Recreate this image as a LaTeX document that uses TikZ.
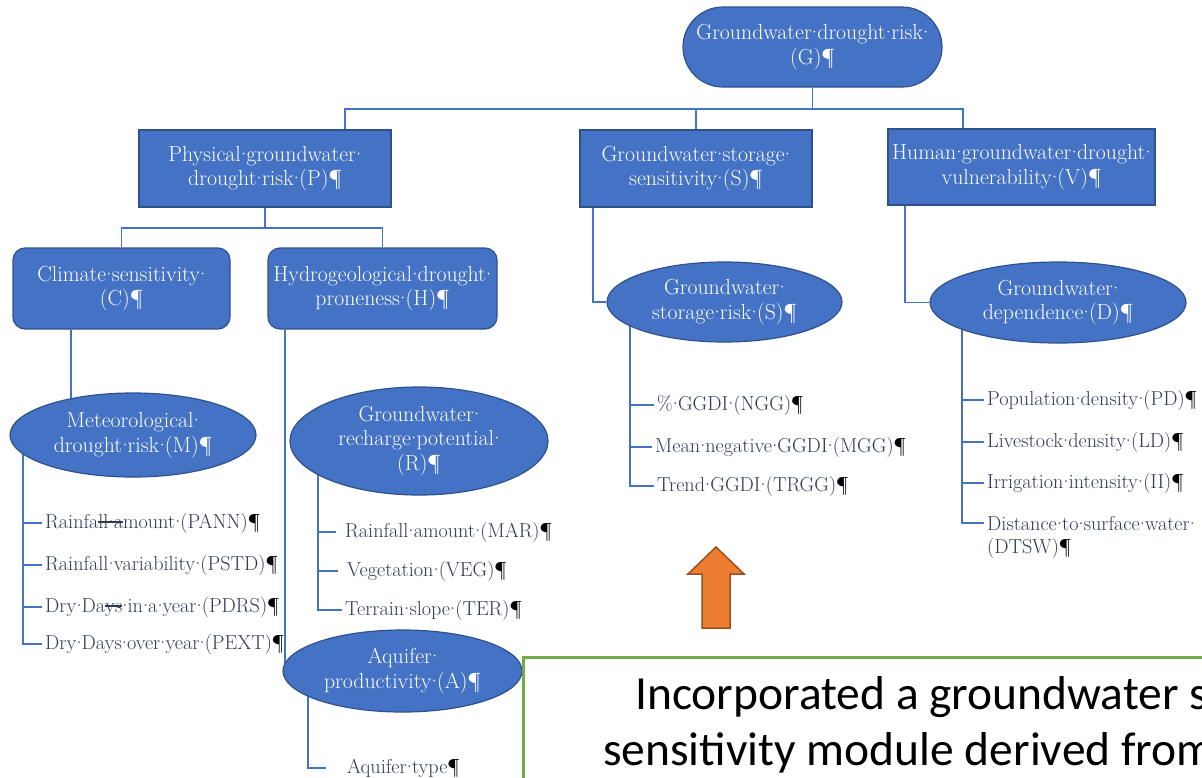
\documentclass[tikz,border=0pt]{standalone}
\usepackage{fontspec}
\usepackage{tikz}
\usetikzlibrary{positioning,shapes}
\newfontfamily\notefont{Carlito}
\definecolor{boxblue}{HTML}{4472C4}
\definecolor{boxedge}{HTML}{2F528F}
\definecolor{linkblue}{HTML}{4472C4}
\definecolor{itemtext}{HTML}{2E3A58}
\definecolor{arroworange}{HTML}{ED7D31}
\definecolor{arrowedge}{HTML}{9C4F1E}
\definecolor{notegreen}{HTML}{70AD47}
\pgfdeclarelayer{paper}
\pgfdeclarelayer{bg}
\pgfsetlayers{paper,bg,main}
\newcommand{\pilc}{\textcolor{black}{¶}}
\newsavebox\strkbox
\newcommand{\strk}[1]{\sbox\strkbox{#1}\rlap{\rule[0.27em]{\wd\strkbox}{0.06em}}\usebox\strkbox}
% narrow middle dot, as the word-processor marks
\catcode`·=\active
\def·{\makebox[0.26em]{\char"00B7}}

\begin{document}
\begin{tikzpicture}[x = 1pt, y = -1pt,
    box/.style = {draw = boxedge, line width = 1.2pt, fill = boxblue, text = white, align = center, inner sep = 2pt, font = \fontsize{21.8}{24.5}\selectfont},
    oval/.style = {box, ellipse, inner sep = 0pt},
    item/.style = {anchor = west, inner sep = 3pt, text = itemtext, font = \fontsize{20.2}{25}\selectfont},
    link/.style = {draw = linkblue, line width = 1.8pt}]
    \begin{pgfonlayer}{paper}
    \fill[white] (0,0) rectangle (1202,777);
    \end{pgfonlayer}
    \useasboundingbox (0,0) rectangle (1202,777);
    \clip (0,0) rectangle (1202,777);

    % top levels
    \node[box, rounded corners = 40pt, minimum width = 259pt, minimum height = 80pt] (G) at (812.5,47) {Groundwater·drought·risk·\\(G)¶};
    \node[box, minimum width = 252pt, minimum height = 77pt] (P) at (265,168.5) {Physical·groundwater·\\drought·risk·(P)¶};
    \node[box, minimum width = 232pt, minimum height = 77pt] (S) at (696,168.5) {Groundwater·storage·\\sensitivity·(S)¶};
    \node[box, minimum width = 267pt, minimum height = 76pt] (V) at (1021.5,167) {Human·groundwater·drought·\\vulnerability·(V)¶};
    \node[box, rounded corners = 12pt, minimum width = 217pt, minimum height = 81pt] (C) at (121.5,288.5) {Climate·sensitivity·\\(C)¶};
    \node[box, rounded corners = 12pt, minimum width = 229pt, minimum height = 81pt] (H) at (382.5,288.5) {Hydrogeological·drought·\\proneness·(H)¶};

    % ovals
    \node[oval, minimum width = 246pt, minimum height = 84pt] (M) at (133,435) {Meteorological·\\drought·risk·(M)¶};
    \node[oval, minimum width = 258pt, minimum height = 108pt] (R) at (419,441) {Groundwater·\\recharge·potential·\\(R)¶};
    \node[oval, minimum width = 239pt, minimum height = 82pt] (A) at (402.5,671) {Aquifer·\\productivity·(A)¶};
    \node[oval, minimum width = 235pt, minimum height = 80pt] (SR) at (724.5,302) {Groundwater·\\storage·risk·(S)¶};
    \node[oval, minimum width = 256pt, minimum height = 81pt] (D) at (1058,302.5) {Groundwater·\\dependence·(D)¶};

    % indicators
    \node[item] (m1) at (42,523) {Rainfa\strk{ll·a}mount·(PANN)\pilc};
    \node[item] (m2) at (42,565) {Rainfall·variability·(PSTD)\pilc};
    \node[item] (m3) at (42,607) {Dry·Da\strk{ys}·in·a·year·(PDRS)\pilc};
    \node[item] (m4) at (42,644) {Dry·Days·over·year·(PEXT)\pilc};
    \node[item] (r1) at (342,532) {Rainfall·amount·(MAR)\pilc};
    \node[item] (r2) at (344,571) {Vegetation·(VEG)\pilc};
    \node[item] (r3) at (342,610) {Terrain·slope·(TER)\pilc};
    \node[item] (a1) at (344,768) {Aquifer·type\pilc};
    \node[item] (s1) at (654,405) {\%·GGDI·(NGG)\pilc};
    \node[item] (s2) at (652,447) {Mean·negative·GGDI·(MGG)\pilc};
    \node[item] (s3) at (654,486) {Trend·GGDI·(TRGG)\pilc};
    \node[item] (d1) at (984,400) {Population·density·(PD)\pilc};
    \node[item] (d2) at (984,442) {Livestock·density·(LD)\pilc};
    \node[item] (d3) at (984,483) {Irrigation·intensity·(II)\pilc};
    \node[item] (d4) at (984,523) {Distance·to·surface·water·};
    \node[item] (d5) at (984,548) {(DTSW)\pilc};

    % added note
    \filldraw[fill = arroworange, draw = arrowedge, line width = 1.5pt] (716,547) -- (744,574) -- (730,574) -- (730,628) -- (702,628) -- (702,574) -- (688,574) -- cycle;
    \node[draw = notegreen, line width = 2.5pt, anchor = north west, minimum width = 720pt, minimum height = 160pt] (note) at (522,656) {};
    \node[anchor = base west, inner sep = 0pt, font = \notefont\fontsize{47.5}{56}\selectfont] (n1) at (635,709) {Incorporated a groundwater s};
    \node[anchor = base west, inner sep = 0pt, font = \notefont\fontsize{47.5}{56}\selectfont] (n2) at (603,765) {sensitivity module derived from};

    \begin{pgfonlayer}{bg}
    \draw[link] (G.south) -- ++(0,21) coordinate (gbus);
    \draw[link] ([xshift = 80pt]P.north) |- (gbus) -| ([xshift = -58.5pt]V.north);
    \draw[link] (S.north) -- (S.north |- gbus);
    \draw[link] (P.south) -- ++(0,20) coordinate (pbus) -| (C.north);
    \draw[link] (pbus) -| (H.north);
    \coordinate (ctail) at ([xshift = -62pt]M.center);
    \draw[link] (ctail) -- (ctail |- C.south);
    \coordinate (htail) at ([xshift = -117.5pt]A.center);
    \draw[link] (htail) -- (htail |- H.south);
    \draw[link] ([xshift = -103pt]S.south) |- (SR);
    \draw[link] ([xshift = -116.5pt]V.south) |- (D);
    % stems and ticks
    \coordinate (mst) at ([xshift = -110pt]M.center);
    \draw[link] (mst) |- (m4.west);
    \foreach \i in {1,2,3} \draw[link] (m\i.west -| mst) -- (m\i.west);
    \coordinate (rst) at ([xshift = -101pt]R.center);
    \draw[link] (rst) |- (r3.west);
    \foreach \i in {1,2} \draw[link] (r\i.west -| rst) -- ([xshift = -6pt]r\i.west);
    \coordinate (ast) at ([xshift = -94.5pt]A.center);
    \draw[link] (ast) |- ([xshift = -18pt]a1.west);
    \coordinate (sst) at ([xshift = -94.5pt]SR.center);
    \draw[link] (sst) |- (s3.west);
    \foreach \i in {1,2} \draw[link] (s\i.west -| sst) -- (s\i.west);
    \coordinate (dst) at ([xshift = -96pt]D.center);
    \draw[link] (dst) |- (d4.west);
    \foreach \i in {1,2,3} \draw[link] (d\i.west -| dst) -- (d\i.west);
    \end{pgfonlayer}
\end{tikzpicture}
\end{document}
